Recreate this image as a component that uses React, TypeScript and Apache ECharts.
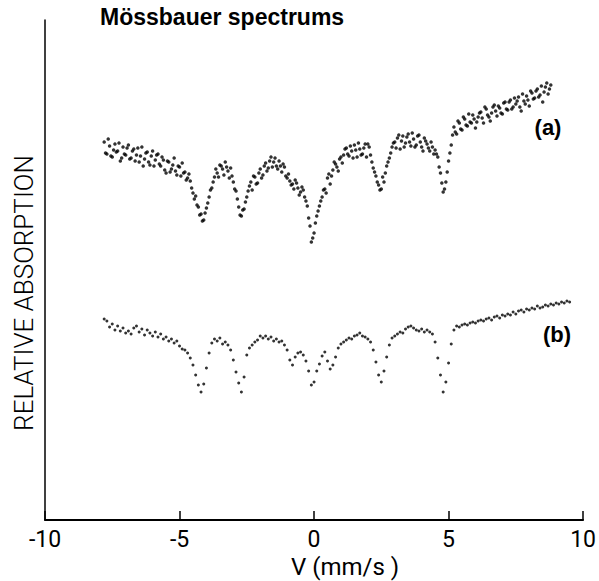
import React, { useEffect, useRef } from "react";
import * as echarts from "echarts";

// Velocity channels (mm/s): first channel of each sweep and channel width
const VEL_START_A1 = -7.8;
const VEL_START_A2 = -7.75;
const VEL_START_B = -7.8;
const VEL_STEP = 0.1;

// Spectrum (a), sweep 1: relative absorption, -7.8 .. 8.8 mm/s
const spectrumA1: number[] = [
  75.6, 73.2, 74.8, 72.6, 75.2, 73.8, 71.8, 74.6, 73.0, 75.0,
  72.4, 74.2, 73.0, 71.6, 74.6, 72.2, 73.6, 71.0, 73.8, 72.0,
  73.2, 70.8, 72.0, 69.4, 71.6, 70.2, 72.4, 69.0, 70.6, 71.4,
  69.6, 68.4, 67.8, 65.4, 64.8, 62.6, 61.2, 60.0, 62.4, 64.6,
  66.4, 68.6, 69.4, 71.0, 70.2, 71.6, 69.8, 70.4, 67.6, 65.8,
  62.6, 60.8, 62.2, 64.6, 66.8, 66.0, 68.6, 67.4, 70.2, 69.0,
  71.4, 70.4, 72.6, 71.6, 70.8, 71.8, 69.6, 70.6, 68.4, 67.8,
  67.2, 68.0, 66.4, 65.6, 66.0, 63.8, 60.4, 55.6, 57.4, 60.8,
  62.8, 64.6, 66.2, 68.4, 67.2, 70.0, 71.2, 69.8, 72.6, 73.0,
  74.4, 72.8, 73.8, 75.0, 72.6, 74.2, 73.2, 75.2, 75.2, 73.0,
  70.4, 68.8, 67.0, 66.2, 67.6, 70.8, 72.4, 74.6, 75.6, 76.4,
  74.2, 76.8, 75.4, 77.2, 74.8, 76.2, 75.0, 77.0, 74.6, 76.4,
  75.2, 73.8, 74.6, 74.0, 72.6, 69.4, 65.6, 67.6, 71.8, 75.0,
  78.6, 77.2, 79.4, 78.0, 80.2, 78.8, 79.6, 81.0, 78.4, 80.6,
  81.6, 79.4, 82.2, 80.6, 81.4, 83.0, 80.8, 82.4, 81.2, 83.6,
  82.0, 84.0, 82.6, 83.2, 84.6, 81.8, 83.8, 84.8, 82.8, 85.4,
  84.4, 86.2, 85.0, 83.6, 86.6, 85.2, 87.0,
];

// Spectrum (a), sweep 2: relative absorption, -7.75 .. 8.75 mm/s
const spectrumA2: number[] = [
  73.4, 76.2, 72.8, 74.0, 73.6, 75.4, 72.4, 73.2, 74.4, 72.2,
  73.8, 71.8, 74.4, 72.8, 70.8, 73.4, 71.6, 72.8, 70.8, 73.0,
  71.2, 72.6, 70.0, 71.8, 69.6, 71.0, 69.8, 70.8, 68.8, 69.4,
  68.0, 69.2, 66.4, 64.2, 63.0, 61.0, 59.8, 61.4, 63.4, 66.0,
  67.6, 70.2, 68.6, 70.8, 69.0, 70.6, 68.4, 68.8, 66.2, 64.2,
  61.0, 62.0, 63.6, 65.8, 67.6, 68.8, 67.2, 69.4, 68.4, 70.8,
  69.8, 71.8, 70.6, 72.4, 70.2, 70.8, 71.2, 68.8, 69.2, 67.0,
  66.2, 67.4, 65.0, 66.6, 64.6, 62.8, 58.8, 56.4, 59.4, 61.8,
  63.8, 66.0, 65.4, 69.2, 68.8, 71.6, 70.6, 72.2, 71.4, 74.2,
  73.2, 74.8, 72.4, 74.0, 75.4, 73.0, 74.4, 72.6, 74.6, 71.6,
  69.6, 67.6, 66.0, 68.6, 69.4, 71.6, 73.4, 75.4, 74.4, 77.0,
  75.8, 74.6, 76.6, 75.6, 77.4, 74.6, 76.8, 75.6, 73.8, 75.8,
  74.4, 75.6, 73.2, 73.2, 70.6, 67.4, 66.2, 69.6, 73.4, 77.0,
  77.6, 79.8, 78.2, 80.6, 79.0, 81.2, 79.4, 80.2, 79.6, 81.4,
  80.4, 82.6, 81.0, 79.8, 82.6, 81.8, 82.8, 81.4, 83.4, 82.2,
  83.6, 82.2, 84.4, 83.8, 82.6, 85.2, 83.2, 84.0, 85.8, 84.2,
  85.8, 84.6, 86.8, 85.6, 87.4, 86.2,
];

// Spectrum (b): relative absorption per channel, -7.8 .. 9.5 mm/s
const spectrumB: number[] = [
  40.2, 39.8, 38.6, 39.2, 38.0, 38.8, 37.8, 38.4, 37.4, 37.8,
  37.2, 38.4, 38.8, 37.6, 38.2, 37.0, 38.0, 37.4, 36.8, 37.6,
  36.6, 37.2, 36.2, 36.6, 35.8, 36.2, 35.4, 35.8, 34.8, 34.2,
  34.0, 33.4, 32.4, 31.0, 29.0, 27.0, 25.6, 27.2, 30.4, 33.4,
  35.4, 36.2, 35.8, 36.4, 35.2, 35.6, 35.0, 34.0, 32.0, 29.6,
  27.4, 25.6, 28.6, 33.0, 34.4, 35.0, 35.6, 36.0, 36.8, 36.4,
  36.8, 36.2, 36.6, 35.8, 36.2, 35.6, 35.8, 35.0, 34.0, 32.0,
  31.0, 32.6, 33.4, 33.6, 33.0, 31.8, 29.8, 27.0, 27.6, 29.8,
  31.2, 32.8, 33.6, 31.8, 30.2, 31.0, 32.6, 34.4, 35.2, 35.6,
  36.0, 36.4, 36.2, 36.8, 37.0, 37.4, 36.8, 36.6, 36.2, 35.6,
  34.0, 31.6, 29.0, 27.6, 29.8, 32.6, 35.0, 36.4, 36.8, 37.2,
  37.6, 37.4, 38.2, 38.6, 38.8, 38.4, 38.0, 37.8, 38.2, 37.6,
  38.0, 37.6, 37.2, 35.6, 32.4, 29.0, 25.6, 27.6, 31.4, 35.2,
  38.0, 38.8, 38.6, 39.0, 39.2, 39.0, 39.4, 39.6, 39.4, 39.8,
  40.0, 39.8, 40.2, 40.4, 40.0, 40.6, 40.8, 40.4, 41.0, 40.8,
  41.2, 41.0, 41.6, 41.2, 41.8, 42.0, 41.6, 42.2, 42.0, 42.4,
  42.2, 42.8, 42.4, 42.6, 43.0, 42.8, 43.2, 43.0, 43.4, 43.2, 43.6, 43.4, 43.8, 43.6,
];

const xTicks = [-10, -5, 0, 5, 10];
const titleText = "Mössbauer spectrums";
const yAxisTitle = "RELATIVE ABSORPTION";
const xAxisTitle = "V (mm/s )";
const seriesLabels = ["(a)", "(b)"];

const toPoints = (start: number, vals: number[]) =>
  vals.map((y, i) => [Math.round((start + i * VEL_STEP) * 100) / 100, y]);

export default function App() {
  const ref = useRef<HTMLDivElement>(null);
  useEffect(() => {
    if (!ref.current) return;
    const chart = echarts.init(ref.current, undefined, { renderer: "svg" });
    const thin = "Roboto, 'Liberation Sans', Arial, sans-serif";
    const bold = "'Liberation Sans', Arial, sans-serif";
    chart.setOption({
      animation: false,
      backgroundColor: "#fff",
      grid: { left: 45, right: 13, top: 20, bottom: 61 },
      xAxis: {
        type: "value",
        min: xTicks[0],
        max: xTicks[xTicks.length - 1],
        interval: 5,
        splitLine: { show: false },
        axisLine: { show: true, onZero: false, lineStyle: { color: "#000", width: 2 } },
        axisTick: { show: true, inside: true, length: 9, lineStyle: { color: "#000", width: 1.5 } },
        axisLabel: { color: "#000", fontSize: 23, fontFamily: thin, fontWeight: 400, margin: 8 },
      },
      yAxis: {
        type: "value",
        min: 0,
        max: 100,
        splitLine: { show: false },
        axisLine: { show: true, onZero: false, lineStyle: { color: "#000", width: 1.5 } },
        axisTick: { show: false },
        axisLabel: { show: false },
      },
      graphic: [
        {
          type: "text",
          x: 100,
          y: 17,
          style: { text: titleText, fill: "#000", font: `bold 23px ${bold}`, align: "left", verticalAlign: "middle" },
        },
        {
          type: "text",
          x: 24,
          y: 293,
          rotation: Math.PI / 2,
          style: {
            text: yAxisTitle,
            fill: "#000",
            font: `300 26px ${thin}`,
            align: "center",
            verticalAlign: "middle",
          },
        },
        {
          type: "text",
          x: 345,
          y: 567,
          style: {
            text: xAxisTitle,
            fill: "#000",
            font: `400 24px ${thin}`,
            align: "center",
            verticalAlign: "middle",
          },
        },
        {
          type: "text",
          x: 548,
          y: 127,
          style: { text: seriesLabels[0], fill: "#000", font: `bold 22px ${bold}`, align: "center", verticalAlign: "middle" },
        },
        {
          type: "text",
          x: 557,
          y: 334,
          style: { text: seriesLabels[1], fill: "#000", font: `bold 22px ${bold}`, align: "center", verticalAlign: "middle" },
        },
      ],
      series: [
        {
          name: "(a)",
          type: "scatter",
          data: [...toPoints(VEL_START_A1, spectrumA1), ...toPoints(VEL_START_A2, spectrumA2)],
          symbol: "circle",
          symbolSize: 3.5,
          itemStyle: { color: "#000" },
        },
        {
          name: "(b)",
          type: "scatter",
          data: toPoints(VEL_START_B, spectrumB),
          symbol: "circle",
          symbolSize: 3,
          itemStyle: { color: "#000" },
        },
      ],
    });
    return () => chart.dispose();
  }, []);
  return <div ref={ref} style={{ width: 599, height: 581, position: "fixed", left: 0, top: 0 }} />;
}
